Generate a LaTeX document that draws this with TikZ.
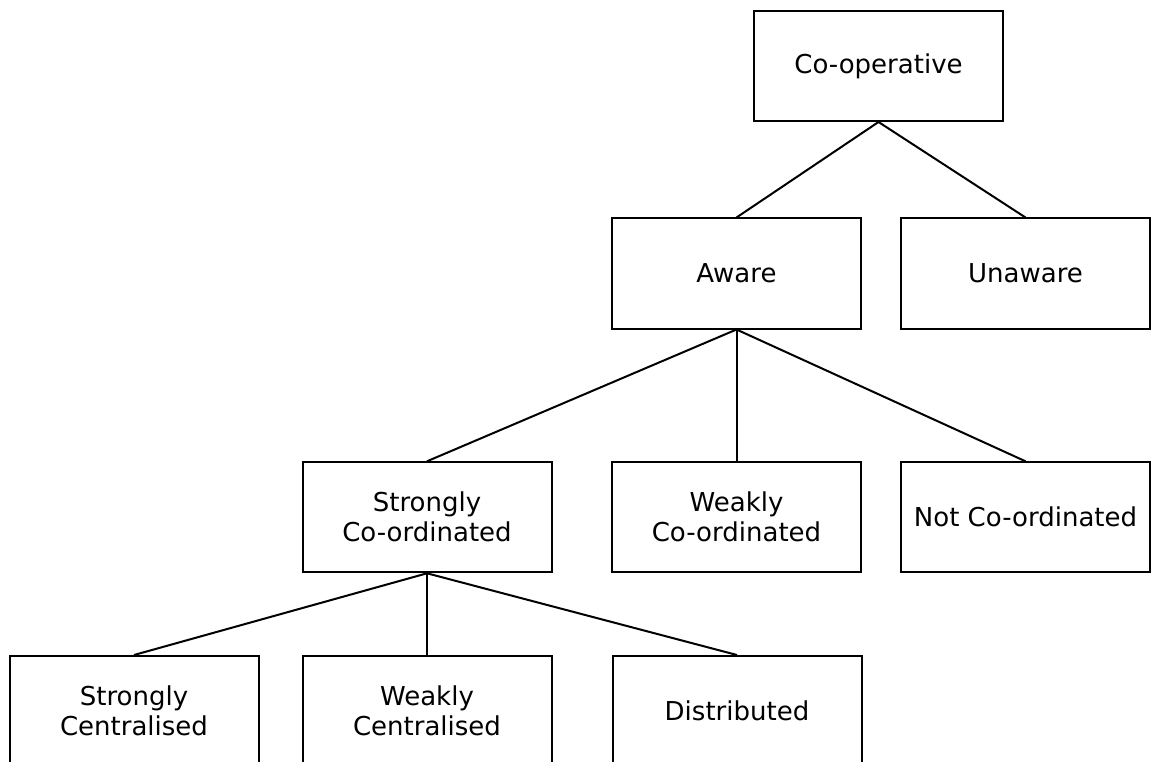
\documentclass[tikz,border=0pt]{standalone}
\usepackage{fontspec}
\setmainfont{DejaVu Sans}
\begin{document}
\begin{tikzpicture}[x=1pt,y=-1pt,
  box/.style={draw=black,line width=2pt,rectangle,minimum width=249pt,minimum height=110pt,
    inner sep=0pt,align=center,font=\fontsize{26}{30}\selectfont},
  link/.style={draw=black,line width=2pt}]
\clip (0,0) rectangle (1151,762);
\fill[white] (0,0) rectangle (1151,762);
% taxonomy tree
\node[box] (coop) at (878.5,66) {Co-operative};
\node[box] (aware) at (736.5,273.5) {Aware};
\node[box] (unaware) at (1025.5,273.5) {Unaware};
\node[box] (sco) at (427,517.3) {Strongly\\Co-ordinated};
\node[box] (wco) at (736.5,517.3) {Weakly\\Co-ordinated};
\node[box] (nco) at (1025.5,517.3) {Not Co-ordinated};
\node[box] (scen) at (134,711) {Strongly\\Centralised};
\node[box] (wcen) at (427,711) {Weakly\\Centralised};
\node[box] (dist) at (737,711) {Distributed};
\draw[link] (coop.south) -- (aware.north);
\draw[link] (coop.south) -- (unaware.north);
\draw[link] (aware.south) -- (sco.north);
\draw[link] (aware.south) -- (wco.north);
\draw[link] (aware.south) -- (nco.north);
\draw[link] (sco.south) -- (scen.north);
\draw[link] (sco.south) -- (wcen.north);
\draw[link] (sco.south) -- (dist.north);
\end{tikzpicture}
\end{document}
